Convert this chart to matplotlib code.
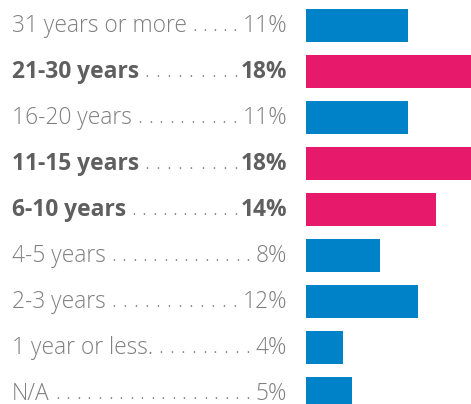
import matplotlib
matplotlib.use("Agg")
import matplotlib.pyplot as plt
import matplotlib.transforms as mtransforms

categories = ["31 years or more", "21-30 years", "16-20 years", "11-15 years",
              "6-10 years", "4-5 years", "2-3 years", "1 year or less.", "N/A"]
values = [11, 18, 11, 18, 14, 8, 12, 4, 5]
highlight = [False, True, False, True, True, False, False, False, False]
pct_labels = [f"{v}%" for v in values]

BLUE = "#0082c8"
PINK = "#e6196a"
GRAY = "#7f7f7f"
DARK = "#5f5f5f"
FONT = "Open Sans"
FS = 16.4

W, H = 471, 404
fig = plt.figure(figsize=(W / 100, H / 100), dpi=100)
x0 = 306 / W
ax = fig.add_axes([x0, 0, 1 - x0, 1])
pitch = 46.0
c0 = 25.5
ax.set_ylim((H - c0) / pitch, -c0 / pitch)
ax.set_xlim(0, 17.75)
ax.axis("off")

ypos = list(range(len(categories)))
colors = [PINK if h else BLUE for h in highlight]
ax.barh(ypos, values, height=33 / pitch, color=colors, linewidth=0)

trans = mtransforms.blended_transform_factory(fig.transFigure, ax.transData)
lbl_objs, pct_objs = [], []
for i, (cat, p, h) in enumerate(zip(categories, pct_labels, highlight)):
    col = DARK if h else GRAY
    wt = "bold" if h else "light"
    t1 = fig.text(12 / W, i, cat, transform=trans, ha="left", va="center",
                  fontsize=FS, family=FONT, color=col, fontweight=wt)
    t2 = fig.text(287 / W, i, p, transform=trans, ha="right", va="center",
                  fontsize=FS, family=FONT, color=col, fontweight=wt)
    lbl_objs.append(t1)
    pct_objs.append(t2)

fig.canvas.draw()
r = fig.canvas.get_renderer()
step = 10.6
for i, (t1, t2, h) in enumerate(zip(lbl_objs, pct_objs, highlight)):
    e1 = t1.get_window_extent(r)
    e2 = t2.get_window_extent(r)
    left = e1.x1 + 8
    right = e2.x0 - (5 if h else 8)
    n = max(1, int(round((right - left) / step)) + 1)
    sp = (right - left) / (n - 1) if n > 1 else 0
    for k in range(n):
        x = left + k * sp
        fig.text(x / W, i + 0.13, ".", transform=trans, ha="center",
                 va="baseline", fontsize=FS - 2, family=FONT,
                 color=GRAY, fontweight="light")

fig.savefig("out.png", dpi=100)
